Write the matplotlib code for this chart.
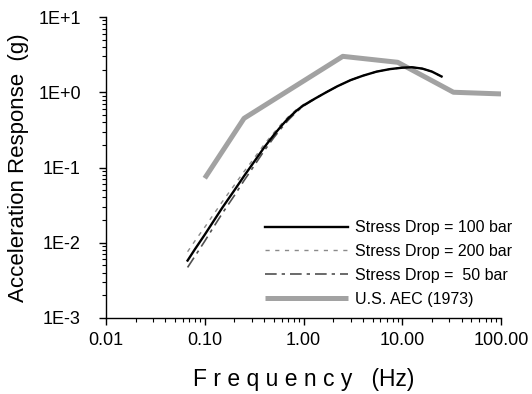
import matplotlib

matplotlib.use("Agg")
import matplotlib.pyplot as plt
from matplotlib.ticker import NullFormatter, LogLocator

plt.rcParams["font.family"] = ["Liberation Sans", "DejaVu Sans"]

# ---------------------------------------------------------------- data
freq = [0.067, 0.08, 0.1, 0.12, 0.15, 0.2, 0.25, 0.3, 0.4, 0.5, 0.6, 0.7,
        0.85, 1.0, 1.3, 1.7, 2.2, 3.0, 4.0, 5.5, 7.5, 10.0, 12.5, 16.0,
        20.0, 25.0]
sd100 = [0.0058, 0.0083, 0.0128, 0.0185, 0.029, 0.050, 0.077, 0.108, 0.185,
         0.27, 0.36, 0.45, 0.57, 0.67, 0.82, 1.00, 1.20, 1.45, 1.66, 1.88,
         2.03, 2.12, 2.15, 2.06, 1.88, 1.62]
sd200 = [0.0076, 0.0107, 0.0161, 0.0228, 0.0349, 0.0587, 0.0884, 0.121,
         0.203, 0.289, 0.381, 0.471, 0.590, 0.686, 0.83, 1.00, 1.20, 1.45,
         1.66, 1.88, 2.03, 2.12, 2.15, 2.06, 1.88, 1.62]
sd50 = [0.0047, 0.0067, 0.0105, 0.0154, 0.0244, 0.0426, 0.0671, 0.0951,
        0.167, 0.249, 0.336, 0.425, 0.550, 0.655, 0.816, 1.00, 1.20, 1.45,
        1.66, 1.88, 2.03, 2.12, 2.15, 2.06, 1.88, 1.62]

aec_freq = [0.1, 0.25, 2.5, 9.0, 33.0, 100.0]
aec_acc = [0.072, 0.45, 3.0, 2.5, 1.0, 0.95]

xticks = [0.01, 0.1, 1, 10, 100]
xlabels = ["0.01", "0.10", "1.00", "10.00", "100.00"]
yticks = [1e-3, 1e-2, 1e-1, 1, 10]
ylabels = ["1E-3", "1E-2", "1E-1", "1E+0", "1E+1"]

# ---------------------------------------------------------------- plot
fig = plt.figure(figsize=(5.32, 3.94), dpi=100)
ax = fig.add_axes([106 / 532, 1 - 318 / 394, 395 / 532, 301 / 394])

ax.plot(aec_freq, aec_acc, color="#a2a2a2", lw=3.6, solid_capstyle="butt",
        label="U.S. AEC (1973)", zorder=2)
ax.plot(freq, sd200, color="#8a8a8a", lw=1.0, dashes=(3, 4),
        label="Stress Drop = 200 bar", zorder=3)
ax.plot(freq, sd50, color="#505050", lw=1.2, dashes=(7, 3, 2, 3),
        label="Stress Drop =  50 bar", zorder=3)
ax.plot(freq, sd100, color="black", lw=1.7,
        label="Stress Drop = 100 bar", zorder=4)

ax.set_xscale("log")
ax.set_yscale("log")
ax.set_xlim(0.01, 100)
ax.set_ylim(1e-3, 10)
ax.set_xticks(xticks)
ax.set_xticklabels(xlabels)
ax.set_yticks(yticks)
ax.set_yticklabels(ylabels)
ax.xaxis.set_minor_locator(LogLocator(base=10, subs=range(2, 10)))
ax.yaxis.set_minor_locator(LogLocator(base=10, subs=range(2, 10)))
ax.xaxis.set_minor_formatter(NullFormatter())
ax.yaxis.set_minor_formatter(NullFormatter())
ax.tick_params(which="major", direction="out", length=5, width=1,
               labelsize=13)
ax.tick_params(axis="y", which="major", pad=13)
ax.tick_params(axis="x", which="major", pad=5)
ax.tick_params(which="minor", direction="out", length=3, width=0.8)

for s in ("top", "right"):
    ax.spines[s].set_visible(False)
for s in ("left", "bottom"):
    ax.spines[s].set_linewidth(1.0)

ax.set_xlabel("F r e q u e n c y   (Hz)", fontsize=16.5, labelpad=14)
ax.set_ylabel("Acceleration Response  (g)", fontsize=16, labelpad=7)

handles, labels = ax.get_legend_handles_labels()
order = [3, 1, 2, 0]
ax.legend([handles[i] for i in order], [labels[i] for i in order],
          loc="upper left", bbox_to_anchor=(0.4025, 0.325), frameon=False,
          fontsize=11.5, handlelength=5.2, handletextpad=0.45,
          labelspacing=0.55, borderpad=0, borderaxespad=0)

fig.savefig("out.png", dpi=100)
